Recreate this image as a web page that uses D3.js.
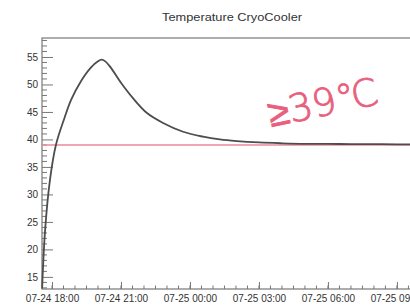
<!DOCTYPE html>
<html><head><meta charset="utf-8">
<script src="https://cdn.jsdelivr.net/npm/d3@7"></script>
<style>html,body{margin:0;padding:0;background:#fff;overflow:hidden}</style>
</head><body>
<svg id="c" width="410" height="308"></svg>
<script>
// Data: hours relative to 07-24 18:00, temperature values
const hours = [-0.43, -0.30, -0.09, 0.17, 0.55, 0.83, 1.26, 1.70, 2.0, 2.15, 2.32, 2.55, 3.0, 3.52, 4.13, 4.83, 5.70, 6.57, 7.30, 8.04, 9.0, 10.0, 11.0, 12.0, 13.0, 14.0, 15.0, 16.2];
const temps = [12.9, 23.5, 32.6, 39.0, 44.0, 47.2, 50.6, 53.1, 54.2, 54.5, 54.2, 53.1, 50.3, 47.5, 44.8, 43.0, 41.4, 40.5, 40.0, 39.7, 39.45, 39.3, 39.2, 39.2, 39.15, 39.15, 39.1, 39.1];
const threshold = 39;
const yTicks = [15, 20, 25, 30, 35, 40, 45, 50, 55];
const title = "Temperature CryoCooler";
const annotation = "≥39℃";

const base = new Date(2023, 6, 24, 18, 0);
const toDate = h => new Date(base.getTime() + h * 3600e3);
const data = hours.map((h, i) => ({ t: toDate(h), v: temps[i] }));

const L = 42, R = 422, T = 38, B = 289;
const svg = d3.select("#c");
const x = d3.scaleTime().domain([toDate(-0.435), toDate(16.09)]).range([L, R]);
const y = d3.scaleLinear().domain([12.8, 58.45]).range([B, T]);

const axisCol = "#777", txtCol = "#333";
const font = "10px 'Liberation Sans', Arial, sans-serif";

// frame
svg.append("rect").attr("x", L).attr("y", T).attr("width", R - L).attr("height", B - T)
  .attr("fill", "none").attr("stroke", axisCol).attr("stroke-width", 1.2);

// y minor ticks
const yMinor = d3.range(13, 59, 1).filter(v => !yTicks.includes(v));
svg.append("g").selectAll("line").data(yMinor).join("line")
  .attr("x1", L).attr("x2", L + 5).attr("y1", d => y(d)).attr("y2", d => y(d))
  .attr("stroke", axisCol).attr("stroke-width", 1);
// y major axis
const yAxis = d3.axisLeft(y).tickValues(yTicks).tickSize(-11).tickFormat(d3.format("d"));
const gy = svg.append("g").attr("transform", `translate(${L},0)`).call(yAxis);
gy.select(".domain").remove();
gy.selectAll("line").attr("stroke", axisCol);
gy.selectAll("text").attr("x", -4).attr("fill", txtCol).style("font", font);

// x minor ticks (30 min)
const xMinor = d3.timeMinute.every(30).range(x.domain()[0], x.domain()[1]);
svg.append("g").selectAll("line").data(xMinor).join("line")
  .attr("x1", d => x(d)).attr("x2", d => x(d)).attr("y1", B).attr("y2", B - 3.5)
  .attr("stroke", axisCol).attr("stroke-width", 1);
// x major
const xMajor = d3.timeHour.every(3).range(x.domain()[0], x.domain()[1]);
const xAxis = d3.axisBottom(x).tickValues(xMajor).tickSize(-7).tickFormat(d3.timeFormat("%m-%d %H:%M"));
const gx = svg.append("g").attr("transform", `translate(0,${B})`).call(xAxis);
gx.select(".domain").remove();
gx.selectAll("line").attr("stroke", axisCol);
gx.selectAll("text").attr("y", 6).attr("fill", txtCol).style("font", font);

// threshold line
svg.append("line").attr("x1", L).attr("x2", R).attr("y1", y(threshold)).attr("y2", y(threshold))
  .attr("stroke", "#e98a9a").attr("stroke-width", 1.6);

// curve
const line = d3.line().x(d => x(d.t)).y(d => y(d.v)).curve(d3.curveCatmullRom.alpha(0.5));
svg.append("path").datum(data).attr("d", line).attr("fill", "none")
  .attr("stroke", "#4d4d4d").attr("stroke-width", 1.8);

// title
svg.append("text").attr("x", 232).attr("y", 21).attr("text-anchor", "middle")
  .attr("fill", txtCol).style("font", "11px 'Liberation Sans', Arial, sans-serif")
  .attr("textLength", 140).attr("lengthAdjust", "spacingAndGlyphs").text(title);

// handwritten annotation
svg.append("text").attr("x", 271).attr("y", 127).attr("transform", "rotate(-12 271 127)")
  .attr("fill", "#e8607e").attr("stroke", "#e8607e").attr("stroke-width", 0.9)
  .style("font", "200 38px 'DejaVu Sans', sans-serif")
  .attr("textLength", 112).attr("lengthAdjust", "spacingAndGlyphs")
  .text(annotation);
</script>
</body></html>
